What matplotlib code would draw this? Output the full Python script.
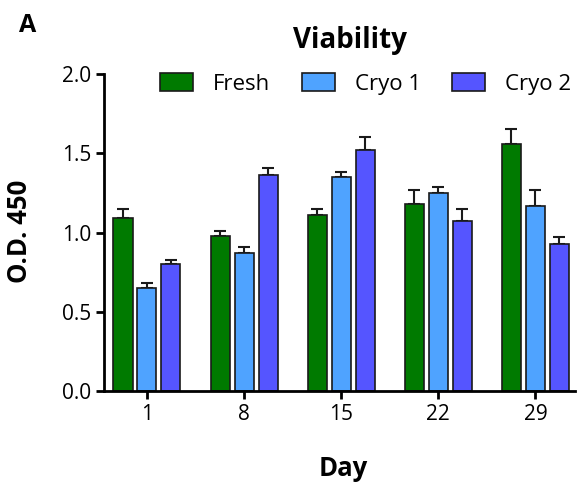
import matplotlib
matplotlib.use("Agg")
import matplotlib.pyplot as plt
import numpy as np

days = ["1", "8", "15", "22", "29"]
series = ["Fresh", "Cryo 1", "Cryo 2"]
fresh = [1.09, 0.98, 1.11, 1.18, 1.56]
cryo1 = [0.65, 0.87, 1.35, 1.25, 1.17]
cryo2 = [0.80, 1.36, 1.52, 1.07, 0.93]
fresh_err = [0.06, 0.03, 0.04, 0.09, 0.09]
cryo1_err = [0.03, 0.04, 0.03, 0.04, 0.10]
cryo2_err = [0.03, 0.05, 0.08, 0.08, 0.04]
colors = ["#007a00", "#4fa3ff", "#5555ff"]

plt.rcParams['font.family'] = ['Open Sans', 'DejaVu Sans']

fig = plt.figure(figsize=(5.84, 4.83), dpi=100)
ax = fig.add_axes([0.178, 0.19, 0.807, 0.657])

x = np.arange(len(days))
w = 0.196
off = 0.247
vals = [fresh, cryo1, cryo2]
errs = [fresh_err, cryo1_err, cryo2_err]
for i, (v, e, c, name) in enumerate(zip(vals, errs, colors, series)):
    xs = x + (i - 1) * off
    ax.bar(xs, v, width=w, color=c, edgecolor="#1a1a1a", linewidth=1.2, label=name, zorder=2)
    ax.errorbar(xs, v, yerr=[np.zeros(len(v)), e], fmt="none", ecolor="#1a1a1a",
                elinewidth=1.5, capsize=4, capthick=1.5, zorder=1)

ax.set_xlim(-0.443, 4.41)
ax.set_ylim(0, 2.0)
ax.set_yticks([0, 0.5, 1.0, 1.5, 2.0])
ax.set_yticklabels(["0.0", "0.5", "1.0", "1.5", "2.0"])
ax.set_xticks(x)
ax.set_xticklabels(days)
for s in ["top", "right"]:
    ax.spines[s].set_visible(False)
for s in ["left", "bottom"]:
    ax.spines[s].set_linewidth(2)
ax.tick_params(axis="both", width=2, length=6, labelsize=15, pad=3)
ax.set_ylabel("O.D. 450", fontsize=18.5, fontweight="bold")
ax.yaxis.set_label_coords(-0.151, 0.503)
ax.set_xlabel("Day", fontsize=18.5, fontweight="bold")
ax.xaxis.set_label_coords(0.507, -0.2)

leg = ax.legend(loc="center left", bbox_to_anchor=(0.119, 0.968), ncol=3, frameon=False,
                fontsize=16, handlelength=1.49, handleheight=0.85, columnspacing=1.4,
                handletextpad=0.9, borderpad=0, borderaxespad=0)

fig.text(0.6, 1 - 48 / 483, "Viability", fontsize=20, fontweight="bold", ha="center", va="baseline")
fig.text(28 / 584, 1 - 25.5 / 483, "A", fontsize=18, fontweight="bold", ha="center", va="center")

fig.savefig("out.png", dpi=100)
